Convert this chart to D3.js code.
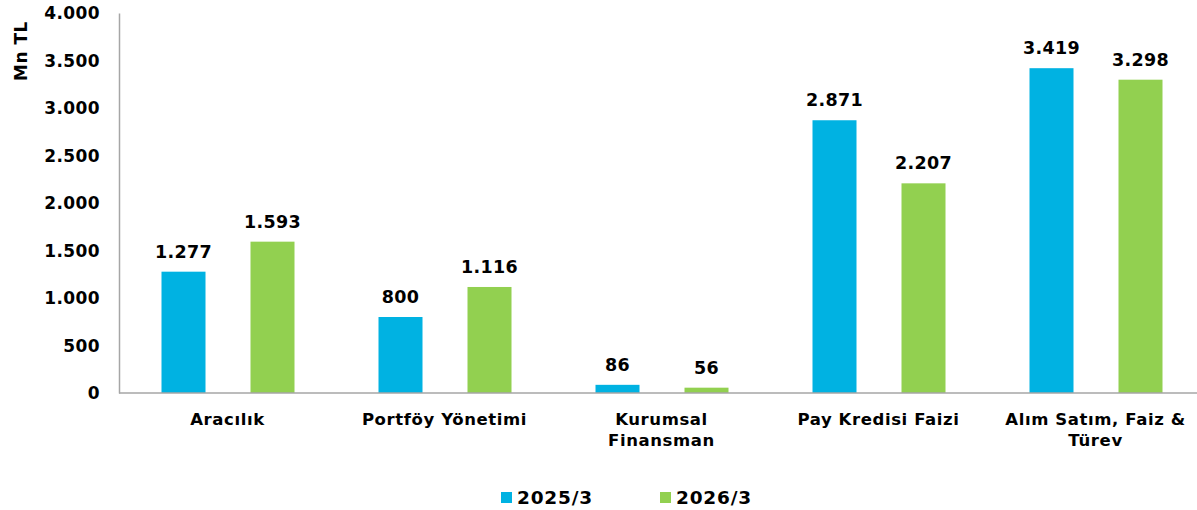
<!DOCTYPE html>
<html>
<head>
<meta charset="utf-8">
<script src="https://cdn.jsdelivr.net/npm/d3@7"></script>
<style>
  body { margin: 0; background: #fff; }
  svg text { font-family: "DejaVu Sans", Verdana, sans-serif; font-weight: bold; fill: #000; }
</style>
</head>
<body>
<svg id="chart"></svg>
<script>
const width = 1197;
const height = 510;

const categories = ["Aracılık", "Portföy Yönetimi", "Kurumsal Finansman", "Pay Kredisi Faizi", "Alım Satım, Faiz & Türev"];
const categoryLines = [["Aracılık"], ["Portföy Yönetimi"], ["Kurumsal", "Finansman"], ["Pay Kredisi Faizi"], ["Alım Satım, Faiz &", "Türev"]];
const seriesNames = ["2025/3", "2026/3"];
const values2025 = [1277, 800, 86, 2871, 3419];
const values2026 = [1593, 1116, 56, 2207, 3298];
const yTicks = [0, 500, 1000, 1500, 2000, 2500, 3000, 3500, 4000];
const colors = ["#00B2E2", "#92D050"];

const fmt = v => d3.format(",")(v).replace(/,/g, ".");

const svg = d3.select("#chart")
    .attr("width", width)
    .attr("height", height);

const x0 = 119, baseY = 393, topY = 13;

const x = d3.scaleBand()
    .domain(categories)
    .range([x0, x0 + 217 * 5])
    .padding(0);

const y = d3.scaleLinear()
    .domain([0, 4000])
    .range([baseY, topY]);

// y axis
const yAxis = svg.append("g")
    .attr("transform", `translate(${x0},0)`)
    .call(d3.axisLeft(y).tickValues(yTicks).tickSize(0).tickPadding(19).tickFormat(fmt));
yAxis.select(".domain").attr("stroke", "#a6a6a6").attr("stroke-width", 1.5);
yAxis.selectAll("text").attr("font-size", 17).attr("letter-spacing", 0.4).attr("dy", "0.35em");

// bars
const rows = categories.map((c, i) => ({ cat: c, vals: [values2025[i], values2026[i]] }));
const barW = 44;
const offsets = [-66, 23];

rows.forEach(r => {
    const cx = x(r.cat) + x.bandwidth() / 2;
    r.vals.forEach((v, j) => {
        svg.append("rect")
            .attr("x", cx + offsets[j])
            .attr("y", y(v))
            .attr("width", barW)
            .attr("height", baseY - y(v))
            .attr("fill", colors[j]);
        svg.append("text")
            .attr("x", cx + offsets[j] + barW / 2)
            .attr("y", y(v) - 14)
            .attr("text-anchor", "middle")
            .attr("font-size", 17.5)
            .attr("letter-spacing", 0.3)
            .text(fmt(v));
    });
});

// x axis
svg.append("line")
    .attr("x1", x0).attr("x2", width)
    .attr("y1", baseY).attr("y2", baseY)
    .attr("stroke", "#a6a6a6").attr("stroke-width", 1.5);

categories.forEach((c, i) => {
    const cx = x(c) + x.bandwidth() / 2;
    const t = svg.append("text")
        .attr("text-anchor", "middle")
        .attr("font-size", 16.5)
        .attr("letter-spacing", 0.6);
    categoryLines[i].forEach((line, k) => {
        t.append("tspan")
            .attr("x", cx)
            .attr("y", 425 + k * 21)
            .text(line);
    });
});

// y label
svg.append("text")
    .attr("transform", "translate(27,51) rotate(-90)")
    .attr("text-anchor", "middle")
    .attr("font-size", 17)
    .attr("letter-spacing", 0.5)
    .text("Mn TL");

// legend
const legendX = [501, 660];
seriesNames.forEach((s, i) => {
    svg.append("rect")
        .attr("x", legendX[i]).attr("y", 492)
        .attr("width", 11).attr("height", 11)
        .attr("fill", colors[i]);
    svg.append("text")
        .attr("x", legendX[i] + 16).attr("y", 504)
        .attr("font-size", 18.5)
        .attr("letter-spacing", 0.8)
        .text(s);
});
</script>
</body>
</html>
